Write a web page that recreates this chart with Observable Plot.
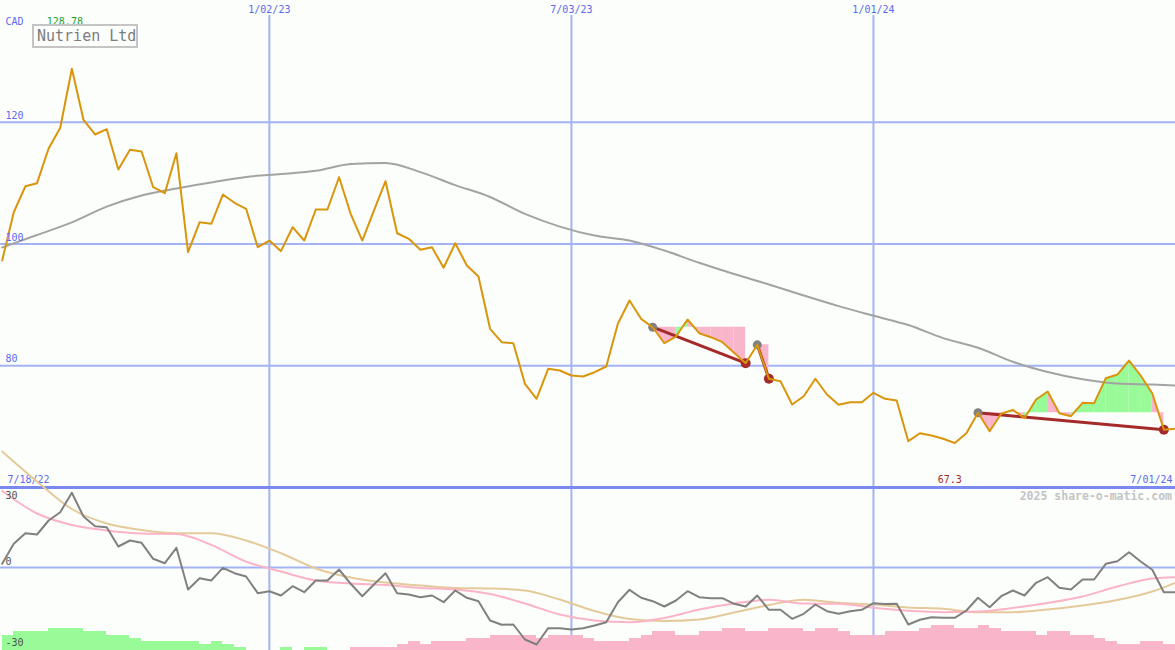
<!DOCTYPE html>
<html>
<head>
<meta charset="utf-8">
<script src="https://cdn.jsdelivr.net/npm/d3@7"></script>
<script src="https://cdn.jsdelivr.net/npm/@observablehq/plot@0.6"></script>
<style>
  html, body { margin: 0; padding: 0; background: #fcfefc; }
  #chart { position: relative; width: 1175px; height: 650px; overflow: hidden; background: #fcfefc; font-family: "DejaVu Sans Mono", monospace; }
  #chart svg { position: absolute; left: 0; top: 0; }
  #title { position: absolute; left: 32px; top: 24px; width: 99px; height: 20px; border: 2px solid #c4c4c4; color: #7c7c7c; font-size: 15px; line-height: 20px; padding-left: 3px; white-space: nowrap; background: #fcfefc; }
  #credit { position: absolute; right: 3px; top: 490px; color: #c4c4c4; font-weight: bold; font-size: 11.5px; line-height: 12px; white-space: nowrap; }
</style>
</head>
<body>
<div id="chart"></div>
<script>
// ---- data (weekly, first week = 7/25/22) ----
const prices = [97.29,105.22,109.49,109.99,115.69,119.09,128.78,120.4,117.99,118.86,
  112.24,115.47,115.2,109.33,108.34,114.92,98.65,103.58,103.32,108.13,
  106.77,105.78,99.47,100.57,98.82,102.76,100.57,105.67,105.67,110.97,
  104.96,100.57,105.5,110.32,101.77,100.85,99.05,99.47,96.09,100.13,
  96.47,94.66,86.07,83.87,83.7,77.03,74.57,79.5,79.22,78.4,
  78.23,78.94,79.88,86.89,90.72,87.71,86.33,83.7,84.8,87.6,
  85.35,84.69,83.87,82.13,80.42,83.44,77.86,77.46,73.63,75.0,
  77.86,75.28,73.58,74.01,74.01,75.56,74.57,74.29,67.61,68.92,
  68.54,68.0,67.3,68.92,72.27,69.25,72.11,72.76,71.38,74.46,
  75.77,72.2,71.71,73.91,73.85,77.95,78.56,80.86,78.4,75.49,
  69.48,69.64];
const maWeeks = [1,4,7,10,13,16,19,22,25,28,31,34,37,40,43,46,49,52,55,58,61,64,67,70,73,76,79,82,85,88,91,94,97,100,102];
const maValues = [99.43,101.48,103.55,106.14,107.98,109.12,110.1,111.02,111.5,112.02,113.14,113.32,111.81,109.68,107.72,104.94,102.86,101.38,100.57,98.92,96.91,95.07,93.35,91.54,89.8,88.22,86.69,84.54,82.95,80.65,78.97,77.77,77.08,76.92,76.75];
const oscValues = [1.68,10.77,15.59,15.0,21.36,25.14,33.95,23.18,18.77,18.32,
  9.55,12.27,11.23,3.95,1.95,8.95,-10.0,-4.86,-5.91,-0.14,
  -2.59,-4.09,-11.68,-10.77,-12.73,-8.5,-11.23,-5.91,-5.91,-0.91,
  -7.41,-13.05,-7.73,-2.59,-11.68,-12.27,-13.5,-12.73,-15.77,-10.45,
  -13.77,-15.32,-24.09,-26.05,-25.91,-32.73,-35.0,-27.59,-27.59,-28.18,
  -27.59,-26.36,-24.86,-15.77,-10.14,-13.77,-15.32,-17.73,-15.0,-10.77,
  -13.5,-13.95,-13.95,-16.5,-17.73,-12.73,-19.23,-19.23,-23.32,-21.05,
  -16.82,-19.86,-21.05,-19.86,-19.23,-16.23,-16.59,-16.5,-25.91,-23.77,
  -22.59,-22.86,-22.86,-19.55,-13.77,-18.05,-13.05,-10.45,-12.73,-6.95,
  -4.41,-9.23,-10.0,-5.45,-5.45,1.68,2.86,6.95,2.73,-1.05,
  -11.23,-11.23];
const smoothWeeks = [1,4,7,10,13,16,19,22,25,28,31,34,37,40,43,46,49,52,55,58,61,64,67,70,73,76,79,82,85,88,91,94,97,100,102];
const pinkValues = [34.77,24.55,19.32,16.82,15.45,15.23,10.3,2.7,-1.82,-5.91,-7.27,-7.95,-9.32,-10.0,-12.05,-16.36,-21.36,-24.09,-24.86,-22.95,-19.09,-16.36,-14.68,-16.36,-16.5,-18.32,-19.68,-20.32,-20.0,-18.41,-16.14,-13.18,-8.64,-5.0,-4.41];
const tanValues = [52.73,39.09,26.59,20.0,17.05,15.59,15.59,12.27,6.5,-0.45,-4.55,-6.82,-8.18,-9.32,-9.55,-10.45,-14.55,-19.77,-23.41,-24.32,-23.64,-20.45,-17.05,-14.68,-16.05,-16.82,-18.18,-18.77,-20.32,-20.32,-19.09,-17.27,-14.77,-10.91,-6.95];
const histValues = [6.8,8.6,8.6,8.6,10.1,10.1,10.1,8.6,8.6,6.8,
  6.8,5.3,4.1,4.1,4.1,4.1,4.1,2.7,4.1,2.7,
  1.2,0,0,0,1.5,0,1.5,1.5,0,0,
  -1.5,-1.5,-1.5,-1.5,-2.7,-4.2,-2.7,-4.1,-4.1,-4.1,
  -5.6,-5.6,-6.8,-6.8,-6.8,-6.8,-5.6,-6.8,-6.8,-6.8,
  -5.6,-4.1,-4.1,-4.1,-5.6,-6.8,-8.6,-8.6,-6.8,-6.8,
  -8.6,-8.6,-10.1,-10.1,-8.6,-8.6,-10.1,-10.1,-10.1,-8.6,
  -10.1,-10.1,-8.6,-6.8,-6.8,-6.8,-8.6,-8.6,-8.6,-10.1,
  -11.4,-11.4,-10.1,-10.1,-11.4,-10.1,-8.6,-8.6,-8.6,-6.8,
  -8.6,-8.6,-6.8,-6.8,-5.6,-4.1,-2.7,-2.7,-4.1,-4.1,
  -2.7,-2.7];
const priceTicks = [80, 100, 120];
const oscTicks = [30, 0];
const oscLowTick = [-30];
const dateTicks = ["2023-01-02", "2023-07-03", "2024-01-01"];
const dateTickLabels = ["1/02/23", "7/03/23", "1/01/24"];
const edgeLabels = ["7/18/22", "7/01/24"];
const patternStart = [57, 66, 85];
const patternEnd = [65, 67, 101];
const currency = "CAD";
const titleText = "Nutrien Ltd";
const creditText = "2025 share-o-matic.com";

// ---- scales / styles ----
const W = 1175, H = 650;
const firstWeek = new Date(Date.UTC(2022, 6, 25));
const xDomain = [new Date(Date.UTC(2022, 6, 24)), new Date(Date.UTC(2024, 6, 1))];
const weekDate = k => d3.utcDay.offset(firstWeek, 7 * (k - 1));
const oscFloor = -37.73;

const GRID = "#a4b3f3", BORDER = "#7b89ef", LABEL = "#5a6af0";
const ORANGE = "#d9950b", MAGRAY = "#a3a3a3", RED = "#a52a2a";
const GREEN = "#98fb98", PINK = "#f9b5c9";
const OSCGRAY = "#808080", OSCPINK = "#fbb3c6", OSCTAN = "#e4ca9a";
const FONT = "'DejaVu Sans Mono', monospace";

// ---- derived rows ----
const priceRows = prices.map((p, i) => ({date: weekDate(i + 1), price: p}));
const maRows = maWeeks.map((w, i) => ({date: weekDate(w), value: maValues[i]}));
const patterns = patternStart.map((s, j) => ({
  d1: weekDate(s), p1: prices[s - 1],
  d2: weekDate(patternEnd[j]), p2: prices[patternEnd[j] - 1]
}));
const fills = [];
patternStart.forEach((s, j) => {
  const e = patternEnd[j], level = prices[s - 1];
  for (let k = s; k < e; k++) {
    const up = prices[k] > level;
    const seg = j + "-" + k;
    fills.push({date: weekDate(k), price: prices[k - 1], level, seg, up});
    fills.push({date: weekDate(k + 1), price: prices[k], level, seg, up});
  }
});
const iMax = d3.maxIndex(prices), iMin = d3.minIndex(prices);

const oscRows = oscValues.map((v, i) => ({date: weekDate(i + 1), value: v}));
const pinkRows = smoothWeeks.map((w, i) => ({date: weekDate(w), value: pinkValues[i]}));
const tanRows = smoothWeeks.map((w, i) => ({date: weekDate(w), value: tanValues[i]}));
const histRows = histValues.map((v, i) => ({d1: weekDate(i + 1), d2: weekDate(i + 2), v}));

const svgStyle = {background: "transparent", overflow: "visible", fontFamily: FONT, fontSize: "10px"};

const topPlot = Plot.plot({
  width: W, height: H, margin: 0,
  x: {type: "utc", domain: xDomain, range: [0, W], axis: null},
  y: {domain: [60, 140], range: [487, 0], axis: null},
  style: svgStyle,
  marks: [
    Plot.ruleY(priceTicks, {stroke: GRID, strokeWidth: 2}),
    Plot.ruleX(dateTicks, {x: d => new Date(d), stroke: GRID, strokeWidth: 2, insetTop: 15}),
    Plot.ruleY([60], {stroke: BORDER, strokeWidth: 3}),
    Plot.area(fills.filter(d => d.up), {x1: "date", y1: "level", y2: "price", z: "seg", fill: GREEN}),
    Plot.area(fills.filter(d => !d.up), {x1: "date", y1: "level", y2: "price", z: "seg", fill: PINK}),
    Plot.line(maRows, {x: "date", y: "value", stroke: MAGRAY, strokeWidth: 2, curve: "monotone-x"}),
    Plot.link(patterns, {x1: "d1", y1: "p1", x2: "d2", y2: "p2", stroke: RED, strokeWidth: 3}),
    Plot.dot(patterns, {x: "d1", y: "p1", r: 4.5, fill: "#808080"}),
    Plot.dot(patterns, {x: "d2", y: "p2", r: 5, fill: RED}),
    Plot.line(priceRows, {x: "date", y: "price", stroke: ORANGE, strokeWidth: 2}),
    Plot.text(dateTicks, {x: d => new Date(d), y: 140, dy: 9, text: (d, i) => dateTickLabels[i], fill: LABEL, textAnchor: "middle", lineAnchor: "middle"}),
    Plot.text([currency], {x: xDomain[0], y: 140, dx: 5, dy: 21.5, text: d => d, fill: LABEL, textAnchor: "start", lineAnchor: "middle"}),
    Plot.text([prices[iMax]], {x: weekDate(iMax + 1), y: 140, dx: -7, dy: 21.5, text: d => String(d), fill: "#1f9f1f", textAnchor: "middle", lineAnchor: "middle"}),
    Plot.text(priceTicks, {x: xDomain[0], y: d => d, dx: 5, dy: -6.5, text: d => String(d), fill: LABEL, textAnchor: "start", lineAnchor: "middle"}),
    Plot.text([edgeLabels[0]], {x: xDomain[0], y: 60, dx: 7, dy: -8, text: d => d, fill: LABEL, textAnchor: "start", lineAnchor: "middle"}),
    Plot.text([edgeLabels[1]], {x: xDomain[1], y: 60, dx: -3, dy: -8, text: d => d, fill: LABEL, textAnchor: "end", lineAnchor: "middle"}),
    Plot.text([prices[iMin]], {x: weekDate(iMin + 1), y: 60, dx: -5, dy: -8, text: d => String(d), fill: RED, textAnchor: "middle", lineAnchor: "middle"})
  ]
});

const bottomPlot = Plot.plot({
  width: W, height: H, margin: 0,
  x: {type: "utc", domain: xDomain, range: [0, W], axis: null},
  y: {domain: [-30, 30], range: [633, 501], axis: null},
  style: svgStyle,
  marks: [
    Plot.ruleY([0], {stroke: GRID, strokeWidth: 2}),
    Plot.rect(histRows.filter(d => d.v > 0), {x1: "d1", x2: "d2", y1: oscFloor, y2: d => oscFloor + d.v, fill: GREEN, shapeRendering: "crispEdges"}),
    Plot.rect(histRows.filter(d => d.v < 0), {x1: "d1", x2: "d2", y1: oscFloor, y2: d => oscFloor - d.v, fill: PINK, shapeRendering: "crispEdges"}),
    Plot.line(tanRows, {x: "date", y: "value", stroke: OSCTAN, strokeWidth: 2, curve: "monotone-x"}),
    Plot.line(pinkRows, {x: "date", y: "value", stroke: OSCPINK, strokeWidth: 2, curve: "monotone-x"}),
    Plot.line(oscRows, {x: "date", y: "value", stroke: OSCGRAY, strokeWidth: 2}),
    Plot.text(oscTicks, {x: xDomain[0], y: d => d, dx: 5, dy: -5.5, text: d => String(d), fill: "#505050", textAnchor: "start", lineAnchor: "middle"}),
    Plot.text(oscLowTick, {x: xDomain[0], y: d => d, dx: 5, dy: 9, text: d => String(d), fill: "#505050", textAnchor: "start", lineAnchor: "middle"})
  ]
});

const chart = document.getElementById("chart");
chart.appendChild(topPlot);
chart.appendChild(bottomPlot);
const t = document.createElement("div"); t.id = "title"; t.textContent = titleText; chart.appendChild(t);
const c = document.createElement("div"); c.id = "credit"; c.textContent = creditText; chart.appendChild(c);
</script>
</body>
</html>
